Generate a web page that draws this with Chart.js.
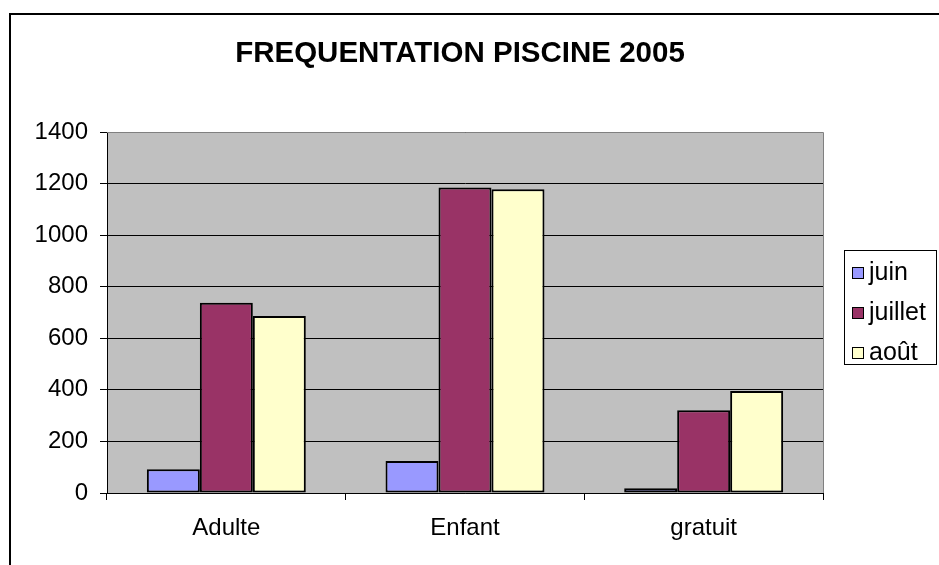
<!DOCTYPE html>
<html>
<head>
<meta charset="utf-8">
<script src="https://cdn.jsdelivr.net/npm/chart.js@4/dist/chart.umd.min.js"></script>
<style>
  html, body { margin: 0; padding: 0; background: #fff; }
  canvas { display: block; }
</style>
</head>
<body>
<canvas id="c" width="939" height="565"></canvas>
<script>
const chartTitle = "FREQUENTATION PISCINE 2005";
const categories = ["Adulte", "Enfant", "gratuit"];
const seriesNames = ["juin", "juillet", "août"];
const juin = [92, 124, 18];
const juillet = [738, 1185, 321];
const aout = [686, 1178, 396];
const yTicks = [0, 200, 400, 600, 800, 1000, 1200, 1400];
const seriesColors = ["#9999FF", "#993366", "#FFFFCC"];

const FONT = "'Liberation Sans', Arial, sans-serif";

const decor = {
  id: 'decor',
  beforeDraw(chart) {
    const ctx = chart.ctx;
    const a = chart.chartArea;
    ctx.save();
    ctx.fillStyle = '#ffffff';
    ctx.fillRect(0, 0, chart.width, chart.height);
    ctx.fillStyle = '#C0C0C0';
    ctx.fillRect(a.left, a.top, a.right - a.left, a.bottom - a.top);
    ctx.restore();
  },
  afterDraw(chart) {
    const ctx = chart.ctx;
    const a = chart.chartArea;
    ctx.save();
    // plot area gray border (top, right)
    ctx.strokeStyle = '#808080';
    ctx.lineWidth = 1;
    ctx.beginPath();
    ctx.moveTo(a.left, a.top + 0.5);
    ctx.lineTo(a.right + 0.5, a.top + 0.5);
    ctx.lineTo(a.right + 0.5, a.bottom);
    ctx.stroke();
    // outer frame
    ctx.strokeStyle = '#000';
    ctx.lineWidth = 2;
    ctx.beginPath();
    ctx.moveTo(10, chart.height);
    ctx.lineTo(10, 14);
    ctx.lineTo(chart.width, 14);
    ctx.stroke();
    // title
    ctx.fillStyle = '#000';
    ctx.font = "bold 29.5px " + FONT;
    ctx.textAlign = 'center';
    ctx.textBaseline = 'middle';
    ctx.fillText(chartTitle, 460, 54);
    // legend
    ctx.lineWidth = 1;
    ctx.strokeRect(844.5, 250.5, 92, 114);
    ctx.font = "25px " + FONT;
    ctx.textAlign = 'left';
    chart.data.datasets.forEach((ds, i) => {
      const cy = 273 + i * 40;
      ctx.fillStyle = ds.backgroundColor;
      ctx.fillRect(852.5, cy - 5.5, 11, 11);
      ctx.strokeStyle = '#000';
      ctx.strokeRect(852.5, cy - 5.5, 11, 11);
      ctx.fillStyle = '#000';
      ctx.fillText(ds.label, 869, cy);
    });
    ctx.restore();
  }
};

const values = [juin, juillet, aout];
new Chart(document.getElementById('c'), {
  type: 'bar',
  data: {
    labels: categories,
    datasets: seriesNames.map((name, i) => ({
      label: name,
      data: values[i],
      backgroundColor: seriesColors[i],
      borderColor: '#000',
      borderWidth: 2,
      borderSkipped: false,
      categoryPercentage: 0.666,
      barPercentage: 1.0
    }))
  },
  options: {
    responsive: false,
    animation: false,
    devicePixelRatio: 1,
    layout: { padding: { top: 132, right: 116, bottom: 0, left: 0 } },
    plugins: {
      legend: { display: false },
      title: { display: false },
      tooltip: { enabled: false }
    },
    scales: {
      x: {
        offset: true,
        grid: { display: true, offset: true, drawOnChartArea: false, drawTicks: true, tickLength: 7, color: '#000', lineWidth: 1 },
        border: { display: true, color: '#000', width: 1 },
        ticks: { color: '#000', font: { family: FONT, size: 24 }, padding: 14, maxRotation: 0 },
        afterFit(s) { s.height = 72; }
      },
      y: {
        min: 0,
        max: 1400,
        afterBuildTicks(s) { s.ticks = yTicks.map(v => ({ value: v })); },
        grid: { color: '#000', lineWidth: 1, drawTicks: true, tickLength: 7 },
        border: { display: true, color: '#000', width: 1 },
        ticks: { color: '#000', font: { family: FONT, size: 24 }, padding: 12, callback: v => String(v) },
        afterFit(s) { s.width = 107; }
      }
    }
  },
  plugins: [decor]
});
</script>
</body>
</html>
